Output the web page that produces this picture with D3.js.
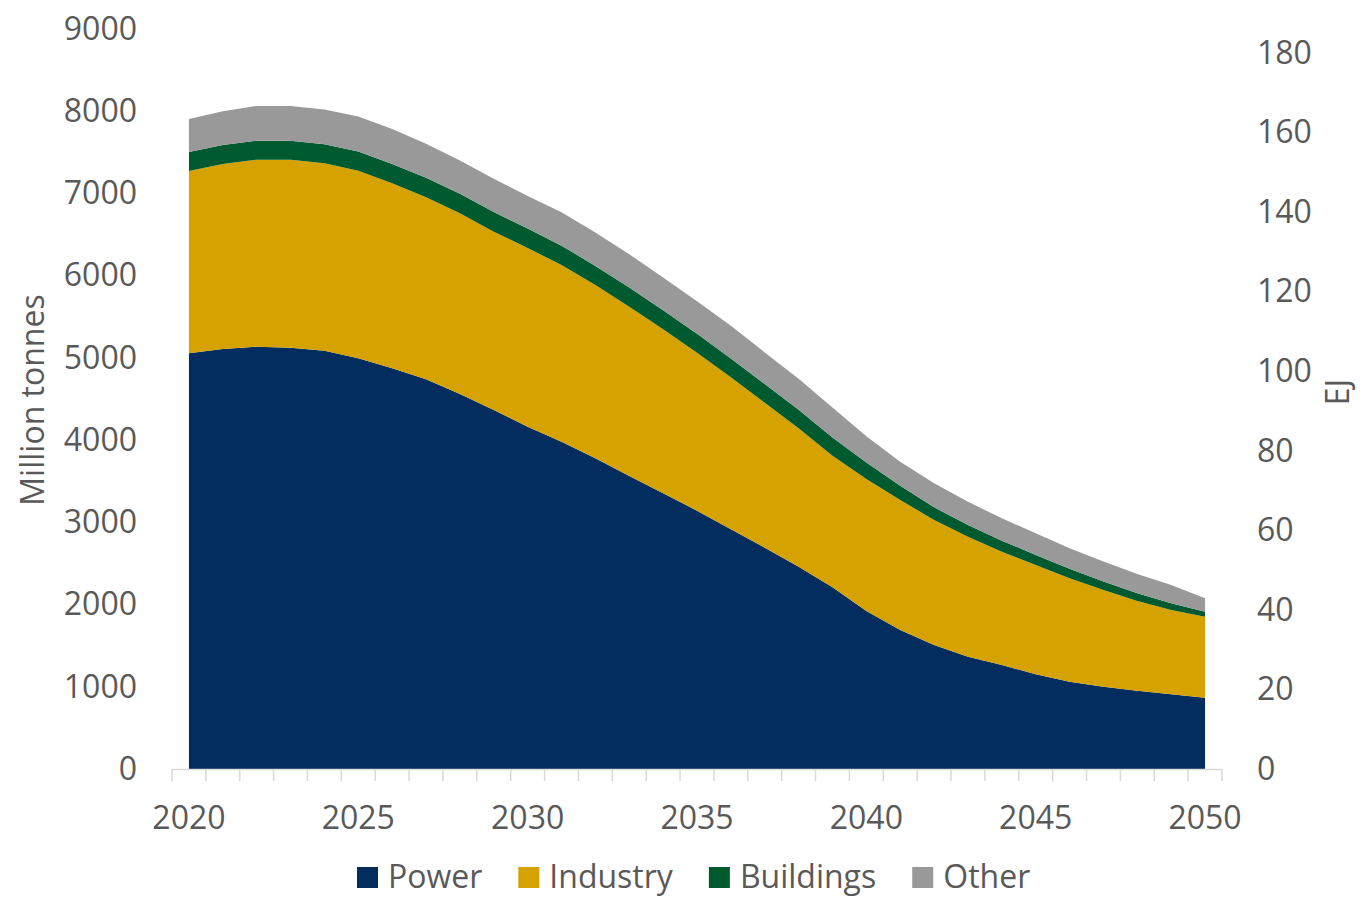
<!DOCTYPE html>
<html>
<head>
<meta charset="utf-8">
<script src="https://cdn.jsdelivr.net/npm/d3@7"></script>
<style>
  html, body { margin: 0; padding: 0; background: #fff; }
  svg { display: block; }
  .tick-label { fill: #595959; font-size: 32px; font-family: "Open Sans", sans-serif; }
</style>
</head>
<body>
<div id="chart"></div>
<script>
const years = d3.range(2020, 2051)

const power = [5056, 5108, 5136, 5124, 5088, 4995, 4874, 4740, 4561, 4366,
  4163, 3981, 3779, 3564, 3353, 3142, 2915, 2692, 2461, 2210,
  1922, 1691, 1508, 1366, 1265, 1152, 1062, 1001, 953, 909, 867]
const industry = [2217, 2250, 2274, 2286, 2278, 2282, 2249, 2213, 2197, 2169,
  2173, 2149, 2107, 2059, 1995, 1921, 1849, 1763, 1683, 1600,
  1605, 1581, 1520, 1459, 1378, 1329, 1257, 1176, 1090, 1025, 986]
const buildings = [230, 231, 232, 232, 233, 234, 236, 237, 238, 238,
  237, 235, 233, 232, 231, 230, 229, 228, 226, 222,
  200, 172, 155, 143, 134, 123, 115, 103, 93, 81, 58]
const other = [401, 410, 422, 422, 422, 425, 426, 414, 405, 406,
  395, 406, 406, 405, 398, 397, 398, 384, 377, 365,
  320, 292, 292, 283, 272, 264, 250, 243, 237, 223, 167]

const seriesNames = ["Power", "Industry", "Buildings", "Other"]
const seriesColors = ["#022d5e", "#d5a200", "#005a30", "#999999"]
const leftTicks = d3.range(0, 9001, 1000)
const rightTicks = d3.range(0, 181, 20)
const yearLabels = [2020, 2025, 2030, 2035, 2040, 2045, 2050]

const W = 1361, H = 902
const PLOT = { left: 172, right: 1222, top: 29, bottom: 769 }

const table = years.map((y, i) => ({
  year: y,
  Power: power[i],
  Industry: industry[i],
  Buildings: buildings[i],
  Other: other[i],
}))

const svg = d3.select("#chart")
  .append("svg")
  .attr("width", W)
  .attr("height", H)

// SCALES ----------------------

const xScale = d3.scalePoint()
  .domain(years)
  .range([PLOT.left, PLOT.right])
  .padding(0.5)

const yLeft = d3.scaleLinear()
  .domain([0, 9000])
  .range([PLOT.bottom, PLOT.top])

const yRight = d3.scaleLinear()
  .domain([0, 180])
  .range([PLOT.bottom, 53])

const color = d3.scaleOrdinal().domain(seriesNames).range(seriesColors)

// AREAS -----------------------

const stacked = d3.stack().keys(seriesNames)(table)

const area = d3.area()
  .x(d => xScale(d.data.year))
  .y0(d => yLeft(d[0]))
  .y1(d => yLeft(d[1]))

svg.append("g")
  .selectAll("path")
  .data(stacked)
  .join("path")
  .attr("fill", d => color(d.key))
  .attr("d", area)

// AXES ------------------------

// category axis: ticks sit between the years
const step = xScale.step()
const boundaries = d3.range(years.length + 1).map(i => PLOT.left + i * step)

const gX = svg.append("g")
gX.append("line")
  .attr("x1", PLOT.left).attr("x2", PLOT.right)
  .attr("y1", PLOT.bottom + 0.5).attr("y2", PLOT.bottom + 0.5)
  .attr("stroke", "#d9d9d9").attr("stroke-width", 1.5)
gX.selectAll(".xtick")
  .data(boundaries)
  .join("line")
  .attr("class", "xtick")
  .attr("x1", d => d).attr("x2", d => d)
  .attr("y1", PLOT.bottom).attr("y2", PLOT.bottom + 12)
  .attr("stroke", "#d9d9d9").attr("stroke-width", 1.5)
gX.selectAll(".tick-label")
  .data(yearLabels)
  .join("text")
  .attr("class", "tick-label")
  .attr("x", d => xScale(d))
  .attr("y", 818)
  .attr("dy", "0.35em")
  .attr("text-anchor", "middle")
  .text(d => d)

const cleanAxis = g => {
  g.select(".domain").remove()
  g.attr("font-family", null).attr("font-size", null)
  g.selectAll("text")
    .attr("class", "tick-label")
    .attr("fill", null)
}

const gLeft = svg.append("g").attr("transform", "translate(137,0)")
gLeft.call(d3.axisLeft(yLeft).tickValues(leftTicks).tickFormat(d3.format("d")).tickSize(0).tickPadding(0))
cleanAxis(gLeft)

const gRight = svg.append("g").attr("transform", "translate(1257,0)")
gRight.call(d3.axisRight(yRight).tickValues(rightTicks).tickFormat(d3.format("d")).tickSize(0).tickPadding(0))
cleanAxis(gRight)

svg.append("text")
  .attr("class", "tick-label")
  .attr("transform", "translate(33,400) rotate(-90)")
  .attr("text-anchor", "middle")
  .attr("dy", "0.35em")
  .text("Million tonnes")

svg.append("text")
  .attr("class", "tick-label")
  .attr("transform", "translate(1338,392) rotate(-90)")
  .attr("text-anchor", "middle")
  .attr("dy", "0.35em")
  .text("EJ")

// LEGEND ----------------------

const legend = svg.append("g").attr("transform", "translate(357,0)")
let lx = 0
seriesNames.forEach(name => {
  const item = legend.append("g").attr("transform", `translate(${lx},0)`)
  item.append("rect")
    .attr("x", 0).attr("y", 867)
    .attr("width", 21).attr("height", 21)
    .attr("fill", color(name))
  const t = item.append("text")
    .attr("class", "tick-label")
    .attr("x", 31).attr("y", 877)
    .attr("dy", "0.35em")
    .text(name)
  lx += 31 + t.node().getComputedTextLength() + 36
})
</script>
</body>
</html>
